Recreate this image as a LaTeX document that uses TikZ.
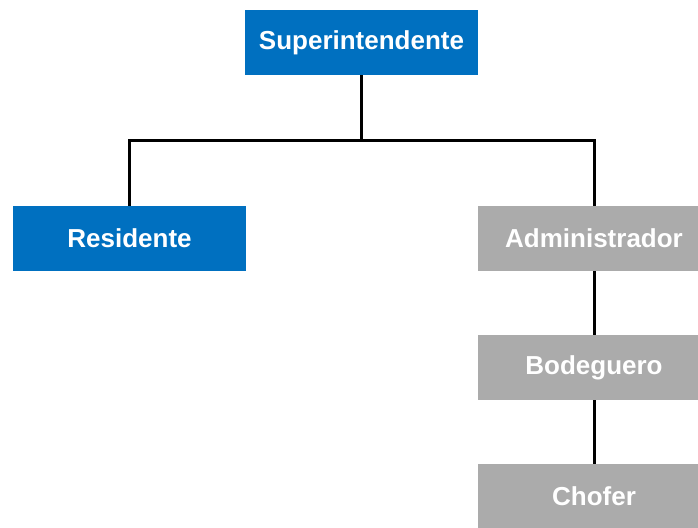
\documentclass[tikz,border=0pt]{standalone}
\usepackage{fontspec}
\setmainfont{Liberation Sans}
\usepackage{xcolor}
\usepackage{tikz}

\definecolor{jefeblue}{HTML}{0070C0}
\definecolor{staffgray}{HTML}{ABABAB}

\begin{document}
\begin{tikzpicture}[x=1pt,y=1pt,
  cargo/.style={minimum width=233pt,minimum height=65pt,inner sep=0pt,
    text=white,font=\fontsize{26}{30}\selectfont\bfseries},
  cargoblue/.style={cargo,fill=jefeblue},
  cargogray/.style={cargo,fill=staffgray},
  enlace/.style={line width=3pt}]
\clip (0,0) rectangle (698,-527);

% Top level
\node[cargoblue] (super) at (361.5,-42.5) {Superintendente};

% Second level
\node[cargoblue] (resid) at (129.5,-238.5) {Residente};
\node[cargogray] (admin) at (594,-238.5) {Administrador};

% Admin branch
\node[cargogray] (bodeg) at (594,-367.5) {Bodeguero};
\node[cargogray] (chofer) at (594,-496.5) {Chofer};

% Connectors
\coordinate (rama) at (361.5,-140);
\draw[enlace] (super.south) -- (rama);
\draw[enlace] (resid.north) |- (rama) -| (admin.north);
\draw[enlace] (admin.south) -- (bodeg.north);
\draw[enlace] (bodeg.south) -- (chofer.north);
\end{tikzpicture}
\end{document}
